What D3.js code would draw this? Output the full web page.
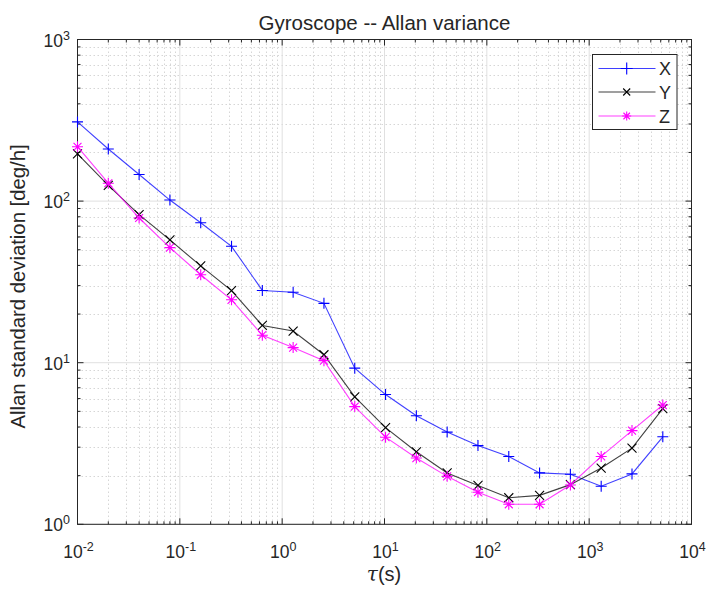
<!DOCTYPE html>
<html>
<head>
<meta charset="utf-8">
<script src="https://cdn.jsdelivr.net/npm/d3@7"></script>
<style>
  html, body { margin: 0; padding: 0; background: #fff; }
  text { font-family: "Liberation Sans", Arial, Helvetica, sans-serif; fill: #262626; }
</style>
</head>
<body>
<svg id="chart" width="708" height="594"></svg>
<script>
// tau values (s) and Allan deviation per axis [deg/h]
var tau = [0.01, 0.02, 0.04, 0.08, 0.16, 0.32, 0.64, 1.28, 2.56, 5.12,
           10.24, 20.48, 40.96, 81.92, 163.84, 327.68, 655.36, 1310.72, 2621.44, 5242.88];
var gyroX = [309, 210, 146, 101.5, 73.5, 52.5, 28, 27.3, 23.3, 9.25,
             6.35, 4.7, 3.72, 3.07, 2.63, 2.08, 2.04, 1.72, 2.05, 3.48];
var gyroY = [196, 125, 82.5, 57.5, 39.7, 27.9, 17.0, 15.7, 11.2, 6.15,
             3.96, 2.81, 2.08, 1.74, 1.46, 1.51, 1.76, 2.23, 2.96, 5.2];
var gyroZ = [217, 129, 78.6, 51.5, 35.0, 24.5, 14.8, 12.4, 10.3, 5.35,
             3.46, 2.57, 1.98, 1.58, 1.33, 1.33, 1.75, 2.63, 3.8, 5.47];

var seriesNames = ['X', 'Y', 'Z'];
var seriesColors = ['#0000ff', '#000000', '#ff00ff'];
var seriesMarkers = ['plus', 'cross', 'star'];

var xTickExp = [-2, -1, 0, 1, 2, 3, 4];
var yTickExp = [0, 1, 2, 3];

var svg = d3.select('#chart');
var pLeft = 77.5, pRight = 691.5, pTop = 39.5, pBottom = 524.3;

var x = d3.scaleLog().domain([1e-2, 1e4]).range([pLeft, pRight]);
var y = d3.scaleLog().domain([1, 1e3]).range([pBottom, pTop]);

function minors(exps) {
    var out = [];
    for (var i = 0; i < exps.length - 1; i++) {
        for (var m = 2; m <= 9; m++) out.push(m * Math.pow(10, exps[i]));
    }
    return out;
}
var xMajor = xTickExp.map(function(e) { return Math.pow(10, e); });
var yMajor = yTickExp.map(function(e) { return Math.pow(10, e); });
var xMinor = minors(xTickExp);
var yMinor = minors(yTickExp);

var grid = svg.append('g');
// minor grid (dotted)
grid.selectAll('.gxm').data(xMinor).enter().append('line')
    .attr('x1', function(d) { return Math.round(x(d)) + 0.5; })
    .attr('x2', function(d) { return Math.round(x(d)) + 0.5; })
    .attr('y1', pTop).attr('y2', pBottom)
    .attr('stroke', '#d6d6d6').attr('stroke-dasharray', '1.5,2.5');
grid.selectAll('.gym').data(yMinor).enter().append('line')
    .attr('y1', function(d) { return Math.round(y(d)) + 0.5; })
    .attr('y2', function(d) { return Math.round(y(d)) + 0.5; })
    .attr('x1', pLeft).attr('x2', pRight)
    .attr('stroke', '#d6d6d6').attr('stroke-dasharray', '1.5,2.5');
// major grid (solid)
grid.selectAll('.gx').data(xMajor).enter().append('line')
    .attr('x1', function(d) { return x(d); }).attr('x2', function(d) { return x(d); })
    .attr('y1', pTop).attr('y2', pBottom)
    .attr('stroke', '#e0e0e0');
grid.selectAll('.gy').data(yMajor).enter().append('line')
    .attr('y1', function(d) { return y(d); }).attr('y2', function(d) { return y(d); })
    .attr('x1', pLeft).attr('x2', pRight)
    .attr('stroke', '#e0e0e0');

// inward ticks on all sides
var ticks = svg.append('g').attr('stroke', '#262626').attr('stroke-width', 1);
function xTicks(vals, len) {
    vals.forEach(function(v) {
        ticks.append('line').attr('x1', x(v)).attr('x2', x(v)).attr('y1', pBottom).attr('y2', pBottom - len);
        ticks.append('line').attr('x1', x(v)).attr('x2', x(v)).attr('y1', pTop).attr('y2', pTop + len);
    });
}
function yTicks(vals, len) {
    vals.forEach(function(v) {
        ticks.append('line').attr('y1', y(v)).attr('y2', y(v)).attr('x1', pLeft).attr('x2', pLeft + len);
        ticks.append('line').attr('y1', y(v)).attr('y2', y(v)).attr('x1', pRight).attr('x2', pRight - len);
    });
}
xTicks(xMajor, 6); xTicks(xMinor, 3);
yTicks(yMajor, 6); yTicks(yMinor, 3);

// box
svg.append('rect').attr('x', pLeft).attr('y', pTop)
    .attr('width', pRight - pLeft).attr('height', pBottom - pTop)
    .attr('fill', 'none').attr('stroke', '#262626').attr('stroke-width', 1);

// tick labels
function powLabel(g, e) {
    g.append('tspan').text('10');
    g.append('tspan').attr('dy', -7).attr('font-size', 12.5).text(e < 0 ? '-' + (-e) : e);
}
xTickExp.forEach(function(e) {
    var t = svg.append('text').attr('x', x(Math.pow(10, e)) + 1).attr('y', 558)
        .attr('text-anchor', 'middle').attr('font-size', 17.5);
    powLabel(t, e);
});
yTickExp.forEach(function(e) {
    var t = svg.append('text').attr('x', 70).attr('y', y(Math.pow(10, e)) + 7)
        .attr('text-anchor', 'end').attr('font-size', 17.5);
    powLabel(t, e);
});

// titles
svg.append('text').attr('x', 384.5).attr('y', 30).attr('text-anchor', 'middle')
    .attr('font-size', 20.5).text('Gyroscope -- Allan variance');
var xl = svg.append('text').attr('x', 384).attr('y', 581).attr('text-anchor', 'middle')
    .attr('font-size', 20);
xl.append('tspan').attr('font-style', 'italic').attr('font-family', '"DejaVu Serif", serif').text('τ');
xl.append('tspan').text('(s)');
svg.append('text').attr('transform', 'translate(25,286.5) rotate(-90)')
    .attr('text-anchor', 'middle').attr('font-size', 20.3)
    .text('Allan standard deviation [deg/h]');

// markers
function marker(g, type, cx, cy, r, color) {
    var p;
    if (type === 'plus') {
        p = 'M' + (cx - r) + ',' + cy + 'H' + (cx + r) + 'M' + cx + ',' + (cy - r) + 'V' + (cy + r);
    } else if (type === 'cross') {
        p = 'M' + (cx - r) + ',' + (cy - r) + 'L' + (cx + r) + ',' + (cy + r) +
            'M' + (cx - r) + ',' + (cy + r) + 'L' + (cx + r) + ',' + (cy - r);
    } else {
        var d = r * 0.72;
        p = 'M' + (cx - r) + ',' + cy + 'H' + (cx + r) + 'M' + cx + ',' + (cy - r) + 'V' + (cy + r) +
            'M' + (cx - d) + ',' + (cy - d) + 'L' + (cx + d) + ',' + (cy + d) +
            'M' + (cx - d) + ',' + (cy + d) + 'L' + (cx + d) + ',' + (cy - d);
    }
    g.append('path').attr('d', p).attr('stroke', color).attr('stroke-width', 1.1).attr('fill', 'none');
}

var allSeries = [gyroX, gyroY, gyroZ];
var markerSize = [5.5, 4.5, 5.5];
var line = d3.line().x(function(d) { return x(d[0]); }).y(function(d) { return y(d[1]); });

allSeries.forEach(function(vals, i) {
    var pts = tau.map(function(t, k) { return [t, vals[k]]; });
    var g = svg.append('g');
    g.append('path').attr('d', line(pts)).attr('fill', 'none')
        .attr('stroke', seriesColors[i]).attr('stroke-width', 1.1).attr('opacity', i === 1 ? 0.75 : 0.75);
    pts.forEach(function(p) {
        marker(g, seriesMarkers[i], x(p[0]), y(p[1]), markerSize[i], seriesColors[i]);
    });
});

// legend
var lg = svg.append('g');
lg.append('rect').attr('x', 592.5).attr('y', 54.5).attr('width', 84.5).attr('height', 75)
    .attr('fill', '#fff').attr('stroke', '#262626').attr('stroke-width', 1);
var legendRows = [68.5, 92, 116];
var legendMarker = [6, 3.5, 4.5];
seriesNames.forEach(function(name, i) {
    var ly = legendRows[i];
    lg.append('line').attr('x1', 598.5).attr('x2', 655.5).attr('y1', ly).attr('y2', ly)
        .attr('stroke', seriesColors[i]).attr('stroke-width', 1.1).attr('opacity', 0.75);
    marker(lg, seriesMarkers[i], 626.7, ly, legendMarker[i], seriesColors[i]);
    lg.append('text').attr('x', 659).attr('y', ly + 6.5).attr('font-size', 18).text(name);
});
</script>
</body>
</html>
